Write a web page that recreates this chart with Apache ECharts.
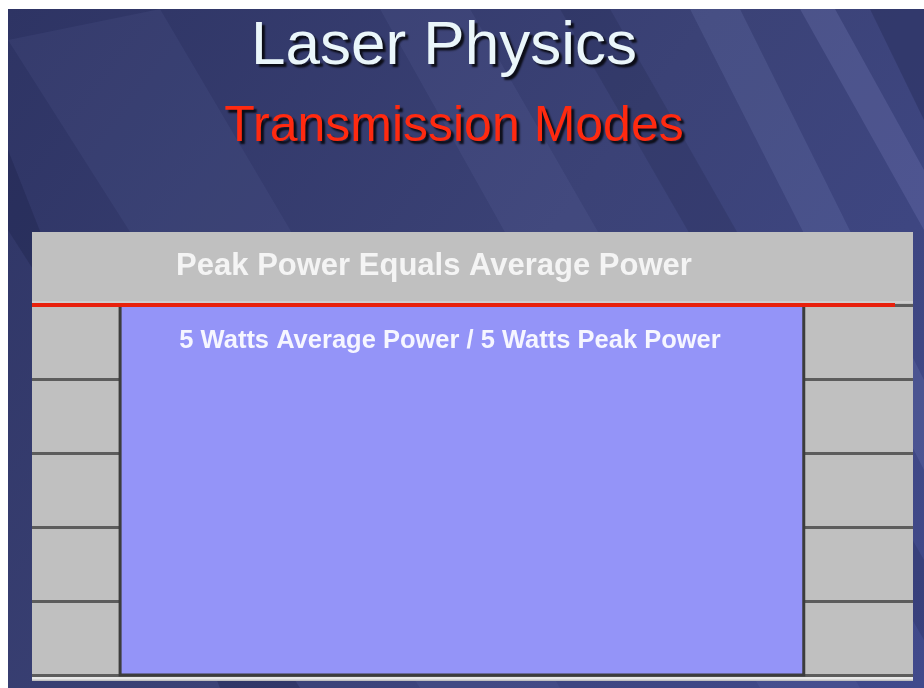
<!DOCTYPE html>
<html>
<head>
<meta charset="utf-8">
<title>Laser Physics - Transmission Modes</title>
<script src="https://cdn.jsdelivr.net/npm/echarts@6/dist/echarts.min.js"></script>
<style>
html, body { margin: 0; padding: 0; background: #fff; }
#main { width: 924px; height: 688px; }
</style>
</head>
<body>
<div id="main"></div>
<script>
var titleText = 'Laser Physics';
var subTitleText = 'Transmission Modes';
var panelHeader = 'Peak Power Equals Average Power';
var pulseLabel = '5 Watts Average Power / 5 Watts Peak Power';

// continuous wave: power stays at 5 W over the whole window
var pulseStart = [1.0];
var pulseEnd = [8.76];
var pulsePower = [5];
var powerTicks = [0, 1, 2, 3, 4, 5];

var myChart = echarts.init(document.getElementById('main'));

// some light streaks on the slide background
function streak(points, color) {
    return {
        type: 'polygon',
        z: -5,
        silent: true,
        shape: { points: points },
        style: { fill: color }
    };
}

var option = {
    backgroundColor: '#ffffff',
    animation: false,
    grid: {
        left: 32,
        right: 11,
        top: 305,
        bottom: 13,
        show: false
    },
    xAxis: {
        type: 'value',
        min: 0,
        max: 10,
        show: false
    },
    yAxis: {
        type: 'value',
        min: powerTicks[0],
        max: powerTicks[powerTicks.length - 1],
        interval: 1,
        axisLine: { show: false },
        axisTick: { show: false },
        axisLabel: { show: false },
        splitLine: { lineStyle: { color: '#5c5c5c', width: 3 } }
    },
    graphic: [
        { type: 'rect', z: -10, silent: true, shape: { x: 8, y: 9, width: 916, height: 679 },
          style: { fill: new echarts.graphic.LinearGradient(0, 0, 1, 1, [
              { offset: 0, color: '#2e3464' },
              { offset: 0.5, color: '#3b4276' },
              { offset: 1, color: '#414a8c' }
          ]) } },
        streak([[8, 40], [160, 9], [560, 688], [420, 688]], 'rgba(120,130,190,0.10)'),
        streak([[8, 150], [8, 230], [300, 688], [220, 688]], 'rgba(20,25,60,0.25)'),
        streak([[380, 9], [470, 9], [860, 688], [760, 688]], 'rgba(130,140,200,0.10)'),
        streak([[690, 9], [740, 9], [924, 380], [924, 470]], 'rgba(150,160,220,0.14)'),
        streak([[800, 9], [835, 9], [924, 170], [924, 230]], 'rgba(160,170,230,0.16)'),
        streak([[870, 9], [924, 9], [924, 120]], 'rgba(20,25,60,0.25)'),
        streak([[560, 9], [610, 9], [924, 560], [924, 640]], 'rgba(20,25,60,0.18)'),
        // gray panel
        { type: 'rect', z: -1, silent: true, shape: { x: 32, y: 232, width: 881, height: 449 },
          style: { fill: '#c0c0c0' } },
        { type: 'line', z: -1, silent: true, shape: { x1: 32, y1: 678, x2: 913, y2: 678 },
          style: { stroke: '#e8e8e8', lineWidth: 3 } },
        { type: 'line', z: -1, silent: true, shape: { x1: 32, y1: 302, x2: 913, y2: 302 },
          style: { stroke: '#dcdcdc', lineWidth: 1 } },
        // red rule under the header
        { type: 'line', z: 20, silent: true, shape: { x1: 32, y1: 305, x2: 895, y2: 305 },
          style: { stroke: '#e8200c', lineWidth: 4 } },
        { type: 'text', z: 20, silent: true, x: 444, y: 47,
          style: { text: titleText, fill: '#eaf6fa', font: '62px "Liberation Sans", Arial, sans-serif',
                   textAlign: 'center', textVerticalAlign: 'middle',
                   textShadowColor: 'rgba(0,0,0,0.8)', textShadowOffsetX: 3, textShadowOffsetY: 3, textShadowBlur: 2 } },
        { type: 'text', z: 20, silent: true, x: 454, y: 127,
          style: { text: subTitleText, fill: '#ff2a10', font: '50px "Liberation Sans", Arial, sans-serif',
                   textAlign: 'center', textVerticalAlign: 'middle',
                   textShadowColor: 'rgba(0,0,0,0.8)', textShadowOffsetX: 3, textShadowOffsetY: 3, textShadowBlur: 2 } },
        { type: 'text', z: 20, silent: true, x: 434, y: 266,
          style: { text: panelHeader, fill: '#f4f4f4', font: 'bold 31px "Liberation Sans", Arial, sans-serif',
                   textAlign: 'center', textVerticalAlign: 'middle' } }
    ],
    series: [{
        type: 'custom',
        data: pulseStart.map(function (s, i) { return [s, pulseEnd[i], pulsePower[i]]; }),
        renderItem: function (params, api) {
            var topLeft = api.coord([api.value(0), api.value(2)]);
            var bottomRight = api.coord([api.value(1), 0]);
            return {
                type: 'rect',
                shape: {
                    x: topLeft[0],
                    y: topLeft[1],
                    width: bottomRight[0] - topLeft[0],
                    height: bottomRight[1] - topLeft[1]
                },
                style: { fill: '#9494f8', stroke: '#3c3c3c', lineWidth: 3 }
            };
        },
        label: { show: false },
        z: 5
    }]
};

option.graphic.push({
    type: 'text', z: 20, silent: true, x: 450, y: 341,
    style: { text: pulseLabel, fill: '#f6f6ff', font: 'bold 25.5px "Liberation Sans", Arial, sans-serif',
             textAlign: 'center', textVerticalAlign: 'middle' }
});

myChart.setOption(option);
</script>
</body>
</html>
